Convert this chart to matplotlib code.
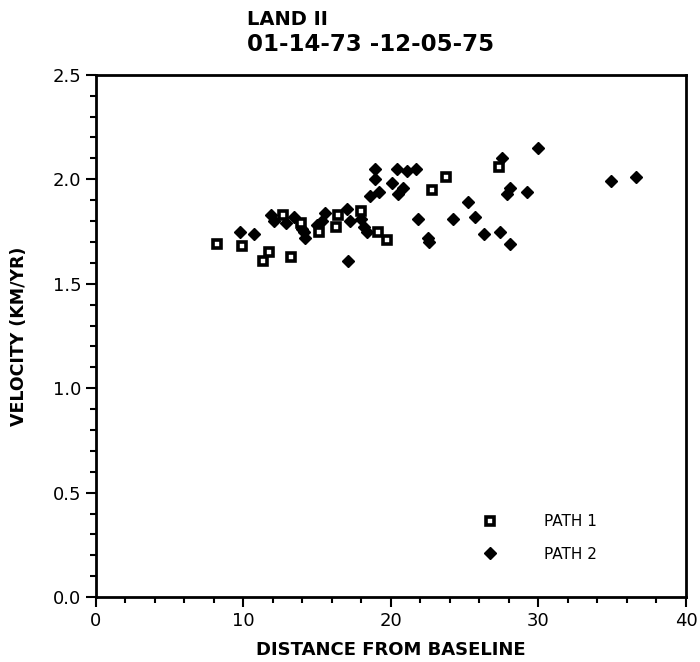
import matplotlib
matplotlib.use("Agg")
from matplotlib import pyplot as plt
from matplotlib.ticker import MultipleLocator

# Path 1 (open squares)
path1_dist = [8.2, 9.9, 11.3, 11.7, 12.7, 13.2, 13.9, 15.1, 16.3, 16.4,
              18.0, 19.1, 19.7, 22.8, 23.7, 27.3]
path1_vel = [1.69, 1.68, 1.61, 1.65, 1.83, 1.63, 1.79, 1.75, 1.77, 1.83,
             1.85, 1.75, 1.71, 1.95, 2.01, 2.06]

# Path 2 (filled diamonds)
path2_dist = [9.8, 10.7, 11.9, 12.1, 12.9, 13.4, 14.0, 14.1, 14.2, 15.0,
              15.3, 15.5, 17.0, 17.2, 17.1, 18.0, 18.2, 18.4, 18.6, 18.9,
              18.9, 19.2, 20.1, 20.4, 20.5, 20.8, 21.1, 21.7, 21.8, 22.5,
              22.6, 24.2, 25.2, 25.7, 26.3, 27.4, 27.5, 27.9, 28.1, 28.1,
              29.2, 30.0, 34.9, 36.6]
path2_vel = [1.75, 1.74, 1.83, 1.80, 1.79, 1.82, 1.76, 1.75, 1.72, 1.78,
             1.80, 1.84, 1.86, 1.80, 1.61, 1.81, 1.77, 1.75, 1.92, 2.05,
             2.00, 1.94, 1.98, 2.05, 1.93, 1.96, 2.04, 2.05, 1.81, 1.72,
             1.70, 1.81, 1.89, 1.82, 1.74, 1.75, 2.10, 1.93, 1.96, 1.69,
             1.94, 2.15, 1.99, 2.01]

title_lines = ["LAND II", "01-14-73 -12-05-75"]

plt.rcParams['font.family'] = ['DejaVu Sans']

fig = plt.figure(figsize=(7, 6.62), dpi=100)
ax = fig.add_axes([0.137, 0.098, 0.843, 0.789])

ax.plot(path2_dist, path2_vel, linestyle='none', marker='D', markersize=6,
        color='black', label='PATH 2', zorder=2)
ax.plot(path1_dist, path1_vel, linestyle='none', marker='s', markersize=5.6,
        markerfacecolor='white', markeredgecolor='black', markeredgewidth=2.6,
        label='PATH 1', zorder=3)

ax.set_xlim(0, 40)
ax.set_ylim(0, 2.5)
ax.xaxis.set_major_locator(MultipleLocator(10))
ax.xaxis.set_minor_locator(MultipleLocator(2))
ax.yaxis.set_major_locator(MultipleLocator(0.5))
ax.yaxis.set_minor_locator(MultipleLocator(0.1))
ax.yaxis.set_major_formatter(plt.FormatStrFormatter('%.1f'))
ax.tick_params(which='both', direction='out', width=1.5, labelsize=13)
ax.tick_params(which='major', length=7)
ax.tick_params(which='minor', length=4)
for s in ax.spines.values():
    s.set_linewidth(2)

ax.set_xlabel("DISTANCE FROM BASELINE", fontsize=13, fontweight='bold', labelpad=8)
ax.set_ylabel("VELOCITY (KM/YR)", fontsize=12.5, fontweight='bold', labelpad=18)

fig.text(0.353, 0.985, title_lines[0], fontsize=14, fontweight='bold', va='top')
fig.text(0.353, 0.95, title_lines[1], fontsize=16.5, fontweight='bold', va='top')

handles, labels = ax.get_legend_handles_labels()
ax.legend(handles[::-1], labels[::-1], loc='upper left', bbox_to_anchor=(0.632, 0.185),
          frameon=False, handlelength=1, handletextpad=3.0, labelspacing=1.15,
          fontsize=11)

fig.savefig("out.png", dpi=100)
